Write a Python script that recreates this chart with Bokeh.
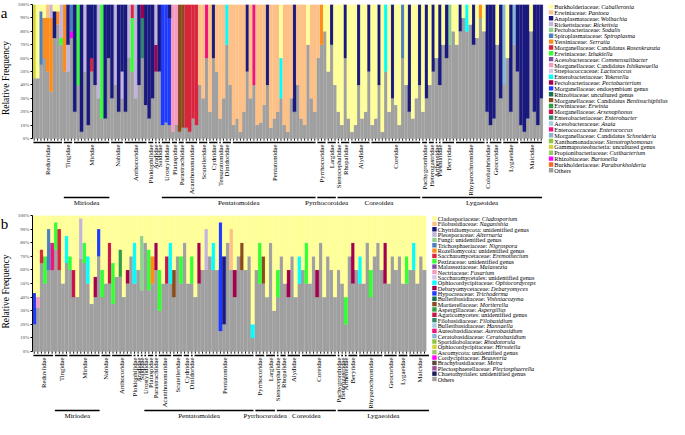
import math
from bokeh.plotting import figure
from bokeh.models import Range1d, FixedTicker, NumeralTickFormatter
from bokeh.layouts import column, row
from bokeh.embed import file_html
from bokeh.resources import INLINE
from bokeh.core.properties import value

FONT = "Liberation Serif"

# ---------------- Panel a : bacteria ----------------
legend_a = [
    ("Burkholderiaceae: ", "Caballeronia"), ("Erwiniaceae: ", "Pantoea"),
    ("Anaplasmataceae: ", "Wolbachia"), ("Rickettsiaceae: ", "Rickettsia"),
    ("Pectobacteriaceae: ", "Sodalis"), ("Spiroplasmataceae: ", "Spiroplasma"),
    ("Yersiniaceae: ", "Serratia"), ("Morganellaceae: Candidatus ", "Rosenkranzia"),
    ("Erwiniaceae: ", "Izhakiella"), ("Acetobacteraceae: ", "Commensalibacter"),
    ("Morganellaceae: Candidatus ", "Ishikawaella"), ("Streptococcaceae: ", "Lactococcus"),
    ("Enterobacteriaceae: ", "Yokenella"), ("Pectobacteriaceae: ", "Pectobacterium"),
    ("Morganellaceae: endosymbiont genus", ""), ("Rhizobiaceae: uncultured genus", ""),
    ("Morganellaceae: Candidatus ", "Benitsuchiphilus"), ("Erwiniaceae: ", "Erwinia"),
    ("Morganellaceae: ", "Arsenophonus"), ("Enterobacteriaceae: ", "Enterobacter"),
    ("Acetobacteraceae: ", "Asaia"), ("Enterococcaceae: ", "Enterococcus"),
    ("Morganellaceae: Candidatus ", "Schneideria"), ("Xanthomonadaceae: ", "Stenotrophomonas"),
    ("Gammaproteobacteria: uncultured genus", ""), ("Propionibacteriaceae: ", "Cutibacterium"),
    ("Rhizobiaceae: ", "Bartonella"), ("Burkholderiaceae: ", "Paraburkholderia"),
    ("Others", ""),
]
colors_a = [
    "#FFFF99", "#FDC086", "#1A1A7E", "#C2B4DC", "#8FD18F", "#4B7FC0",
    "#FF8C1A", "#D7263D", "#33FF33", "#7E4FA8", "#F59AC0", "#D9C6E8",
    "#00FFFF", "#A3004F", "#1F3BFF", "#17704A", "#8B4A1C", "#2EA043",
    "#C8164A", "#2E8B6E", "#A6CEE3", "#F0127F", "#87B5D8", "#8DC63F",
    "#D4D43A", "#9CCB6B", "#FF00FF", "#F26B2B", "#A0A0A0",
]
families_a = ["Reduviidae", "Tingidae", "Miridae", "Nabidae", "Anthocoridae",
              "Plokiophilidae", "Aradidae", "Saldidae", "Urostylididae", "Plataspidae",
              "Parastrachiidae", "Acanthosomatidae", "Scutelleridae", "Cydnidae",
              "Tessaratomidae", "Dinidoridae", "Pentatomidae", "Pyrrhocoridae", "Largidae",
              "Stenocephalidae", "Rhopalidae", "Alydidae", "Coreidae", "Pachygronthidae",
              "Heterogastridae", "Artheneidae", "Piesmatidae", "Berytidae",
              "Rhyparochromidae", "Colobathristidae", "Geocoridae", "Lygaeidae", "Malcidae"]
counts_a = [9, 3, 11, 4, 7, 2, 1, 1, 3, 2, 2, 4, 3, 3, 1, 3, 25, 3, 3, 1, 3, 6, 15,
            2, 2, 1, 1, 4, 9, 1, 4, 5, 7]
supers_a = [("Miriodea", "Tingidae", "Miridae"), ("Pentatomoidea", "Urostylididae", "Pentatomidae"),
            ("Pyrrhocoroidea", "Pyrrhocoridae", "Largidae"), ("Coreoidea", "Stenocephalidae", "Coreidae"),
            ("Lygaeoidea", "Pachygronthidae", "Malcidae")]
# each bar: "legend_index:percent ..." ; remainder = Others
bars_a = [
    # Reduviidae
    "24:55", "0:55", "5:40 0:5", "6:30 0:10", "1:10 6:40", "6:55 3:10", "2:20 0:5", "0:5 6:10", "3:25 8:5",
    # Tingidae
    "6:50", "2:30 3:20", "26:5 5:20",
    # Miridae
    "2:80", "8:60", "2:95", "3:50", "2:90", "7:10 2:40", "2:60", "3:70", "8:85", "2:85", "2:40",
    # Nabidae
    "2:70", "3:60", "2:80", "2:50 3:20",
    # Anthocoridae
    "2:80", "3:40", "8:40 7:10", "3:70", "2:60", "19:30 13:10", "2:75",
    # Plokiophilidae
    "2:85", "2:70",
    # Aradidae
    "13:20 3:30",
    # Saldidae
    "2:50",
    # Urostylididae
    "14:90", "14:88", "14:80 2:10",
    # Plataspidae
    "10:95", "10:90",
    # Parastrachiidae
    "16:95", "16:92",
    # Acanthosomatidae
    "7:92", "7:95", "7:85", "7:90",
    # Scutelleridae
    "1:60", "1:70", "21:40",
    # Cydnidae
    "1:80", "2:40", "1:50",
    # Tessaratomidae
    "1:85",
    # Dinidoridae
    "1:70", "12:30", "1:60",
    # Pentatomidae
    "1:90", "1:85", "1:95", "1:80", "2:50", "1:70", "21:60", "1:90", "1:88", "1:75",
    "2:60", "1:92", "1:85", "1:80", "0:40 12:30", "1:90", "1:95", "1:70", "2:80", "1:60",
    "1:85", "1:90", "0:30", "1:70", "1:80",
    # Pyrrhocoridae
    "1:40", "6:30", "0:20",
    # Largidae
    "0:50", "2:30", "0:60",
    # Stenocephalidae
    "0:80",
    # Rhopalidae
    "0:90", "2:40", "0:85",
    # Alydidae
    "0:95", "0:90", "2:60", "0:85", "0:80", "2:50",
    # Coreidae
    "0:90", "0:85", "2:60", "0:95", "12:50", "0:80", "2:70", "0:75", "0:90", "5:40",
    "0:60", "2:80", "0:85", "0:70", "2:60",
    # Pachygronthidae
    "0:80", "2:70",
    # Heterogastridae
    "0:60", "2:50",
    # Artheneidae
    "0:40",
    # Piesmatidae
    "2:60",
    # Berytidae
    "0:30", "2:40", "4:30", "0:20",
    # Rhyparochromidae
    "0:30", "2:20", "0:10", "12:20", "0:15", "2:30", "0:25", "6:10", "0:20",
    # Colobathristidae
    "2:80",
    # Geocoridae
    "2:90", "2:85", "0:30", "2:70",
    # Lygaeidae
    "22:60", "0:40", "2:80", "22:30", "2:50",
    # Malcidae
    "2:90", "2:95", "2:85", "0:20", "2:80", "2:90", "2:70",
]

# ---------------- Panel b : fungi ----------------
legend_b = [
    ("Cladosporiaceae: ", "Cladosporium"), ("Filobasidiaceae: ", "Naganishia"),
    ("Chytridiomycota: unidentified genus", ""), ("Pleosporaceae: ", "Alternaria"),
    ("Fungi: unidentified genus", ""), ("Trichosphaeriaceae: ", "Nigrospora"),
    ("Rozellomycota: unidentified genus", ""), ("Saccharomycetaceae: ", "Eremothecium"),
    ("Pezizaceae: unidentified genus", ""), ("Malasseziaceae: ", "Malassezia"),
    ("Nectriaceae: ", "Fusarium"), ("Saccharomycetales: unidentified genus", ""),
    ("Ophiocordycipitaceae: ", "Ophiocordyceps"), ("Debaryomycetaceae: ", "Debaryomyces"),
    ("Hypocreaceae: ", "Trichoderma"), ("Bulleribasidiaceae: ", "Vishniacozyma"),
    ("Mortierellaceae: ", "Mortierella"), ("Aspergillaceae: ", "Aspergillus"),
    ("Agaricomycetes: unidentified genus", ""), ("Filobasidiaceae: ", "Filobasidium"),
    ("Bulleribasidiaceae: ", "Hannaella"), ("Aureobasidiaceae: ", "Aureobasidium"),
    ("Ceratobasidiaceae: ", "Ceratobasidium"), ("Sporidiobolaceae: ", "Rhodotorula"),
    ("Ophiocordycipitaceae: ", "Hirsutella"), ("Ascomycota: unidentified genus", ""),
    ("Cordycipitaceae: ", "Beauveria"), ("Brachybasidiaceae: ", "Meira"),
    ("Plectosphaerellaceae: ", "Plectosphaerella"), ("Chaetothyriales: unidentified genus", ""),
    ("Others", ""),
]
colors_b = [
    "#FFFF99", "#FDC086", "#1A1A7E", "#C2B4DC", "#8FD18F", "#4B7FC0",
    "#FF8C1A", "#D7263D", "#33FF33", "#7E4FA8", "#F59AC0", "#D9C6E8",
    "#00FFFF", "#A3004F", "#1F3BFF", "#17704A", "#8B4A1C", "#2EA043",
    "#C8164A", "#2E8B6E", "#A6CEE3", "#F0127F", "#87B5D8", "#8DC63F",
    "#D4D43A", "#9CCB6B", "#FF00FF", "#5A4A3A", "#9B4F9B", "#1A1A5E",
    "#A0A0A0",
]
families_b = ["Reduviidae", "Tingidae", "Miridae", "Nabidae", "Anthocoridae",
              "Plokiophilidae", "Aradidae", "Saldidae", "Urostylididae", "Plataspidae",
              "Parastrachiidae", "Acanthosomatidae", "Scutelleridae", "Cydnidae",
              "Dinidoridae", "Pentatomidae", "Pyrrhocoridae", "Largidae",
              "Stenocephalidae", "Rhopalidae", "Alydidae", "Coreidae", "Pachygronthidae",
              "Heterogastridae", "Artheneidae", "Berytidae", "Rhyparochromidae",
              "Geocoridae", "Lygaeidae", "Malcidae"]
counts_b = [6, 4, 9, 3, 6, 1, 1, 1, 1, 2, 1, 4, 3, 2, 1, 17, 3, 3, 1, 2, 4, 10,
            1, 1, 1, 3, 7, 4, 3, 6]
supers_b = [("Miriodea", "Tingidae", "Miridae"), ("Pentatomoidea", "Urostylididae", "Pentatomidae"),
            ("Pyrrhocoroidea", "Pyrrhocoridae", "Largidae"), ("Coreoidea", "Stenocephalidae", "Coreidae"),
            ("Lygaeoidea", "Pachygronthidae", "Malcidae")]
bars_b = [
    # Reduviidae
    "0:57 14:23", "0:60 10:8", "0:25 7:10", "0:30 8:20", "0:10 5:30", "0:20 21:20",
    # Tingidae
    "0:5 8:20", "0:10 7:30", "0:50", "0:15 12:20",
    # Miridae
    "0:30 8:10", "0:40 18:20", "0:60", "0:2 3:30", "0:20 8:15", "0:30 12:20", "0:65", "0:45 13:15", "0:10 14:20",
    # Nabidae
    "0:40 8:20", "0:50", "0:20 18:30",
    # Anthocoridae
    "0:35 8:30", "0:45", "0:25 17:20", "0:60", "0:40 13:10", "0:30",
    "0:20 12:30", "0:40", "0:15 4:40", "0:20",
    "0:25 8:30", "0:30 6:20",
    "0:20 13:20", "0:40 8:30", "0:50", "0:30 18:20",
    "0:20 12:30", "0:40 16:20", "0:30",
    "0:30 8:20", "0:20",
    "0:50",
    # Pentatomidae
    "0:30 8:20", "0:60", "0:20 13:30", "0:40", "0:10 3:30", "0:30", "0:20 12:20", "0:40",
    "0:5 14:80", "0:30 2:50", "0:20", "0:10 1:30", "0:40 13:20", "0:30", "0:20 16:20", "0:40", "0:30",
    "0:80 12:10", "0:40", "0:20 8:30",
    "0:30 16:20", "0:60", "0:20",
    "0:70",
    "0:40 8:20", "0:30",
    "0:50", "0:40 13:20", "0:30", "0:60",
    "0:30 12:20", "0:40", "0:20 8:30", "0:50", "0:30", "0:40 13:20", "0:20", "0:60", "0:30", "0:40",
    "0:60", "0:40", "0:50",
    "0:60 8:20", "0:30", "0:20 13:30",
    "0:40", "0:30 12:20", "0:50", "0:20", "0:40 8:20", "0:30", "0:20",
    "0:40", "0:20 13:30", "0:50", "0:30",
    "0:40", "0:30", "0:50",
    "0:30 8:20", "0:40", "0:20 12:20", "0:50", "0:30", "0:40",
]

# ---------------- helpers ----------------
TW = {' ': 250, ':': 278, '.': 250, '-': 333,
      'a': 444, 'b': 500, 'c': 444, 'd': 500, 'e': 444, 'f': 333, 'g': 500, 'h': 500, 'i': 278,
      'j': 278, 'k': 500, 'l': 278, 'm': 778, 'n': 500, 'o': 500, 'p': 500, 'q': 500, 'r': 333,
      's': 389, 't': 278, 'u': 500, 'v': 500, 'w': 722, 'x': 500, 'y': 500, 'z': 444,
      'A': 722, 'B': 667, 'C': 667, 'D': 722, 'E': 611, 'F': 556, 'G': 722, 'H': 722, 'I': 333,
      'J': 389, 'K': 722, 'L': 611, 'M': 889, 'N': 722, 'O': 722, 'P': 556, 'Q': 722, 'R': 667,
      'S': 556, 'T': 611, 'U': 722, 'V': 722, 'W': 944, 'X': 722, 'Y': 722, 'Z': 611}


def text_px(s, size):
    return sum(TW.get(c, 500) for c in s) / 1000.0 * size


def parse(bars, ntaxa):
    out = []
    for s in bars:
        r = [0.0] * ntaxa
        for tok in s.split():
            k, v = tok.split(":")
            r[int(k)] += float(v) / 100.0
        r[ntaxa - 1] = max(0.0, 1.0 - sum(r[:-1]))
        out.append(r)
    return out


def build(panel, legend, colors, families, counts, supers, bars, cfg):
    n = len(bars)
    ppb = cfg["bars_px"] / n
    ppu = cfg["ppu"]
    frame_w = cfg["W"] - cfg["left"]
    frame_h = cfg["H"] - cfg["top"]
    y_lo = 1.0 - frame_h / ppu
    xr = Range1d(-0.5, -0.5 + frame_w / ppb)
    yr = Range1d(y_lo, 1.0)
    p = figure(width=cfg["W"], height=cfg["H"], x_range=xr, y_range=yr,
               output_backend="svg", toolbar_location=None, x_axis_location=None,
               min_border_left=cfg["left"], min_border_right=0, min_border_top=cfg["top"],
               min_border_bottom=0, title=None)
    p.outline_line_color = None
    p.grid.visible = False

    def xd(ref_x):
        return -0.5 + (ref_x - cfg["left_ref"]) / ppb

    def yd(ref_y):
        return (cfg["zero_ref"] - ref_y) / ppu

    # stacked bars: Others at the bottom, first legend entry on top
    rows = parse(bars, len(legend))
    cum = [0.0] * n
    order = [len(legend) - 1] + list(range(len(legend) - 2, -1, -1))
    for k in order:
        xs, bs, ts = [], [], []
        for i in range(n):
            v = rows[i][k]
            if v > 0:
                xs.append(i); bs.append(cum[i]); ts.append(cum[i] + v)
                cum[i] += v
        if xs:
            p.vbar(x=xs, bottom=bs, top=ts, width=1.0, fill_color=colors[k],
                   line_color=colors[k], line_width=0.2)

    # y axis
    ax = p.yaxis[0]
    ax.ticker = FixedTicker(ticks=[i / 10 for i in range(11)])
    ax.formatter = NumeralTickFormatter(format="0%")
    ax.bounds = (0, 1)
    ax.major_tick_out = 2
    ax.major_tick_in = 0
    ax.minor_tick_out = 0
    ax.minor_tick_in = 0
    ax.major_label_standoff = 1
    ax.major_label_text_font = FONT
    ax.major_label_text_font_size = "5px"
    ax.axis_line_width = 1

    # sample ticks under the bars
    idx = list(range(n))
    p.segment(x0=idx, y0=[0] * n, x1=idx, y1=[-2.2 / ppu] * n, line_color="black", line_width=0.9)

    # family brackets + labels
    starts, ends, cents = [], [], []
    s = 0
    for c in counts:
        starts.append(s); ends.append(s + c - 1); cents.append(s + (c - 1) / 2)
        s += c
    gap = 0.9 / ppb
    p.segment(x0=[a - 0.5 + gap for a in starts], y0=[-4.0 / ppu] * len(starts),
              x1=[b + 0.5 - gap for b in ends], y1=[-4.0 / ppu] * len(starts),
              line_color="black", line_width=1.6)
    p.text(x=cents, y=[-6.0 / ppu] * len(cents), text=families, angle=math.pi / 2,
           text_align="right", text_baseline="middle", text_font=value(FONT),
           text_font_size="6.7px", text_color="black")

    # superfamilies
    fpos = {f: i for i, f in enumerate(families)}
    sx0, sx1, sc, st = [], [], [], []
    for name, f0, f1 in supers:
        a = starts[fpos[f0]] - 0.5 + gap
        b = ends[fpos[f1]] + 0.5 - gap
        sx0.append(a); sx1.append(b); sc.append((a + b) / 2); st.append(name)
    p.segment(x0=sx0, y0=[-59.0 / ppu] * len(sx0), x1=sx1, y1=[-59.0 / ppu] * len(sx0),
              line_color="black", line_width=1.6)
    p.text(x=sc, y=[-64.0 / ppu] * len(sc), text=st, text_align="center",
           text_baseline="middle", text_font=value(FONT), text_font_size="7px",
           text_color="black")

    # legend drawn by hand so that genus names can be italic
    ly = [yd(cfg["leg_y0"] + k * cfg["leg_dy"]) for k in range(len(legend))]
    bx = [xd(cfg["leg_x"] + 2.2)] * len(legend)
    p.scatter(x=bx, y=ly, marker="square", size=4.4, fill_color=colors, line_color=None)
    tx0 = cfg["leg_x"] + 5.5
    fs = cfg["leg_fs"]
    p.text(x=[xd(tx0)] * len(legend), y=ly, text=[a for a, b in legend],
           text_baseline="middle", text_align="left", text_font=value(FONT),
           text_font_size=f"{fs}px", text_color="black")
    ix, iy, it = [], [], []
    for k, (a, b) in enumerate(legend):
        if b:
            ix.append(xd(tx0 + text_px(a, fs))); iy.append(ly[k]); it.append(b)
    p.text(x=ix, y=iy, text=it, text_baseline="middle", text_align="left",
           text_font=value(FONT), text_font_size=f"{fs}px", text_font_style="italic",
           text_color="black")

    # narrow companion figure left of the axis: panel letter and axis title
    LW = cfg["LW"]
    q = figure(width=LW, height=cfg["H"], x_range=Range1d(0, LW),
               y_range=Range1d(y_lo, 1.0 + cfg["top"] / ppu),
               output_backend="svg", toolbar_location=None, x_axis_location=None,
               y_axis_location=None, min_border=0, title=None)
    q.outline_line_color = None
    q.grid.visible = False
    q.text(x=[cfg["rf_x"]], y=[yd(cfg["rf_y"])], text=["Relative Frequency"], angle=math.pi / 2,
           text_align="center", text_baseline="middle", text_font=value(FONT),
           text_font_size="9.5px", text_color="black")
    q.text(x=[0.3], y=[1.0 + cfg["top"] / ppu], text=[panel], text_align="left",
           text_baseline="top", text_font=value(FONT), text_font_size="15px",
           text_color="black")
    return row(q, p, spacing=0)


cfg_a = dict(W=655, H=207, LW=14, left=16, top=4, bars_px=512, ppu=134.0, left_ref=38,
             zero_ref=149, leg_x=556, leg_y0=17, leg_dy=5.85, leg_fs=6.2,
             rf_x=5.0, rf_y=86)
cfg_b = dict(W=655, H=212, LW=14, left=16, top=8, bars_px=395, ppu=136.0, left_ref=38,
             zero_ref=367, leg_x=439, leg_y0=234, leg_dy=5.35, leg_fs=6.2,
             rf_x=5.0, rf_y=302)

ra = build("a", legend_a, colors_a, families_a, counts_a, supers_a, bars_a, cfg_a)
rb = build("b", legend_b, colors_b, families_b, counts_b, supers_b, bars_b, cfg_b)

layout = column(ra, rb, spacing=0)
open("out.html", "w").write(file_html(layout, INLINE))
